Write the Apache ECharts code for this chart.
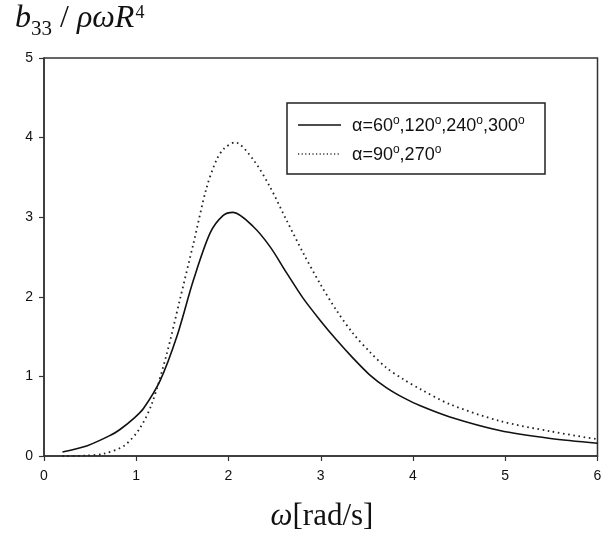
<!DOCTYPE html>
<html>
<head>
<meta charset="utf-8">
<script src="https://cdn.jsdelivr.net/npm/echarts@6/dist/echarts.min.js"></script>
<style>
html,body{margin:0;padding:0;background:#fff;}
#chart{width:606px;height:535px;}
</style>
</head>
<body>
<div id="chart"></div>
<script>
// ---- data ----
const xTicks = [0, 1, 2, 3, 4, 5, 6];
const yTicks = [0, 1, 2, 3, 4, 5];

const solidName = 'α=60°,120°,240°,300°';
const solidX = [0.2, 0.47, 0.72, 0.82, 0.98, 1.08, 1.26, 1.44, 1.62, 1.80, 1.94, 2.05, 2.27, 2.45, 2.63, 2.81, 2.99, 3.17, 3.35, 3.53, 3.71, 3.90, 4.08, 4.40, 4.94, 5.49, 6.0];
const solidY = [0.05, 0.13, 0.26, 0.33, 0.48, 0.60, 0.95, 1.50, 2.21, 2.80, 3.02, 3.06, 2.88, 2.63, 2.30, 1.98, 1.71, 1.46, 1.23, 1.02, 0.86, 0.73, 0.63, 0.49, 0.32, 0.22, 0.16];

const dottedName = 'α=90°,270°';
const dottedX = [0.2, 0.45, 0.65, 0.87, 1.04, 1.17, 1.33, 1.47, 1.62, 1.76, 1.87, 1.95, 2.07, 2.27, 2.45, 2.63, 2.81, 2.99, 3.17, 3.35, 3.53, 3.71, 3.90, 4.08, 4.40, 4.94, 5.49, 6.0];
const dottedY = [0.0, 0.005, 0.03, 0.13, 0.35, 0.66, 1.28, 1.95, 2.67, 3.36, 3.72, 3.86, 3.94, 3.72, 3.38, 2.96, 2.55, 2.17, 1.83, 1.54, 1.31, 1.11, 0.96, 0.84, 0.65, 0.44, 0.31, 0.21];

const pairs = (xs, ys) => xs.map((x, i) => [x, ys[i]]);

const chart = echarts.init(document.getElementById('chart'), null, {renderer: 'canvas'});
const axisColor = '#333';
const sans = '"Liberation Sans", Arial, sans-serif';
const serif = '"Liberation Serif", "Times New Roman", serif';

function legendLabel(s) {
  return s.split('°').map(p => p ? '{t|' + p + '}' : '').join('{sup|o}');
}

const legendRich = {
  t: {fontSize: 18, fontFamily: sans, fill: '#111', lineHeight: 22},
  sup: {fontSize: 12, fontFamily: sans, fill: '#111', verticalAlign: 'top'}
};

const option = {
  backgroundColor: '#fff',
  animation: false,
  grid: {left: 44, right: 8.5, top: 58, bottom: 79, show: true, borderColor: axisColor, borderWidth: 1.5, backgroundColor: 'transparent'},
  xAxis: {
    type: 'value', min: xTicks[0], max: xTicks[xTicks.length - 1], interval: 1,
    axisLine: {show: true, onZero: false, lineStyle: {color: axisColor, width: 1.5}},
    axisTick: {show: true, inside: false, length: 5, lineStyle: {color: axisColor, width: 1.2}},
    axisLabel: {margin: 13, fontSize: 14, color: '#111', fontFamily: sans},
    splitLine: {show: false}
  },
  yAxis: {
    type: 'value', min: yTicks[0], max: yTicks[yTicks.length - 1], interval: 1,
    axisLine: {show: true, onZero: false, lineStyle: {color: axisColor, width: 1.5}},
    axisTick: {show: true, inside: false, length: 5, lineStyle: {color: axisColor, width: 1.2}},
    axisLabel: {margin: 11, fontSize: 14, color: '#111', fontFamily: sans},
    splitLine: {show: false}
  },
  series: [
    {
      name: solidName, type: 'line', data: pairs(solidX, solidY), smooth: 0.3,
      showSymbol: false, lineStyle: {color: '#111', width: 1.6}
    },
    {
      name: dottedName, type: 'line', data: pairs(dottedX, dottedY), smooth: 0.3,
      showSymbol: false, lineStyle: {color: '#222', width: 1.8, type: [1.6, 3.6]}
    }
  ],
  graphic: [
    {
      type: 'text', x: 15, y: -3, z: 10,
      style: {
        text: '{i|b}{sub|33}{r| / }{i|ρωR}{sup|4}', verticalAlign: 'top',
        rich: {
          i: {fontFamily: serif, fontStyle: 'italic', fontSize: 32, fill: '#111', lineHeight: 44},
          r: {fontFamily: serif, fontSize: 32, fill: '#111', lineHeight: 44},
          sub: {fontFamily: serif, fontSize: 21, fill: '#111', verticalAlign: 'top', padding: [22, 0, 0, 0]},
          sup: {fontFamily: serif, fontSize: 18, fill: '#111', verticalAlign: 'top', padding: [7, 0, 0, 1]}
        }
      }
    },
    {
      type: 'text', x: 322, y: 517, z: 10,
      style: {
        text: '{i|ω}{r|[rad/s]}', align: 'center', verticalAlign: 'middle',
        rich: {
          i: {fontFamily: serif, fontStyle: 'italic', fontSize: 31, fill: '#111'},
          r: {fontFamily: serif, fontSize: 31, fill: '#111'}
        }
      }
    },
    {
      type: 'group', z: 20,
      children: [
        {type: 'rect', shape: {x: 287, y: 103, width: 258, height: 71}, style: {fill: '#fff', stroke: '#222', lineWidth: 1.5}},
        {type: 'line', shape: {x1: 298, y1: 125, x2: 341, y2: 125}, style: {stroke: '#111', lineWidth: 1.5}},
        {type: 'line', shape: {x1: 298, y1: 154, x2: 341, y2: 154}, style: {stroke: '#333', lineWidth: 1.5, lineDash: [1.2, 2.4]}},
        {
          type: 'text', x: 352, y: 126,
          style: {text: legendLabel(solidName), verticalAlign: 'middle', rich: legendRich}
        },
        {
          type: 'text', x: 352, y: 155,
          style: {text: legendLabel(dottedName), verticalAlign: 'middle', rich: legendRich}
        }
      ]
    }
  ]
};
chart.setOption(option);
</script>
</body>
</html>
